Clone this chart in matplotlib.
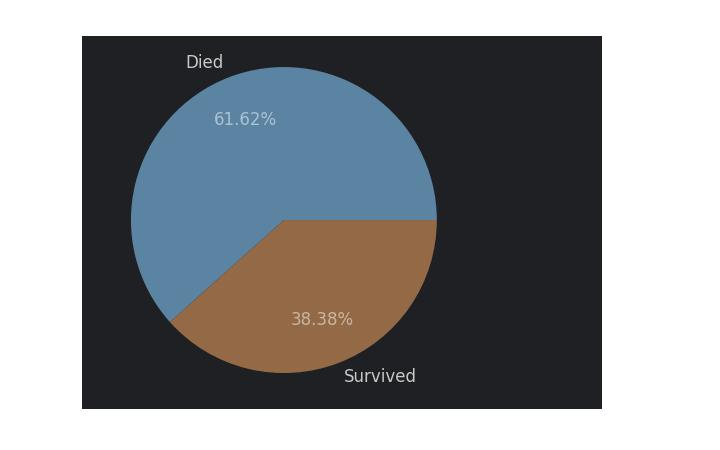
import matplotlib
matplotlib.use("Agg")
import matplotlib.pyplot as plt

labels = ["Died", "Survived"]
values = [61.62, 38.38]
colors = ["#5b84a2", "#946a46"]

fig = plt.figure(figsize=(7.2, 4.5), dpi=100)
fig.patch.set_facecolor("white")
ax = fig.add_axes([82/720, 41/450, 520/720, 373/450])
ax.set_facecolor("#1f2024")

wedges, texts, autotexts = ax.pie(
    values, labels=labels, colors=colors, autopct="%.2f%%",
    startangle=0, pctdistance=0.7, labeldistance=1.1,
    wedgeprops=dict(linewidth=0),
    textprops=dict(fontsize=12, family="DejaVu Sans"),
    frame=True,
)
for t in texts:
    t.set_color("#c8c8c8")
for t in autotexts:
    t.set_color("white")
    t.set_alpha(0.5)

ax.set_aspect("auto")
ax.set_xlim(-1.32, 2.08)
ax.set_ylim(-1.235, 1.203)
ax.set_xticks([])
ax.set_yticks([])
for s in ax.spines.values():
    s.set_visible(False)

fig.savefig("out.png", dpi=100)
